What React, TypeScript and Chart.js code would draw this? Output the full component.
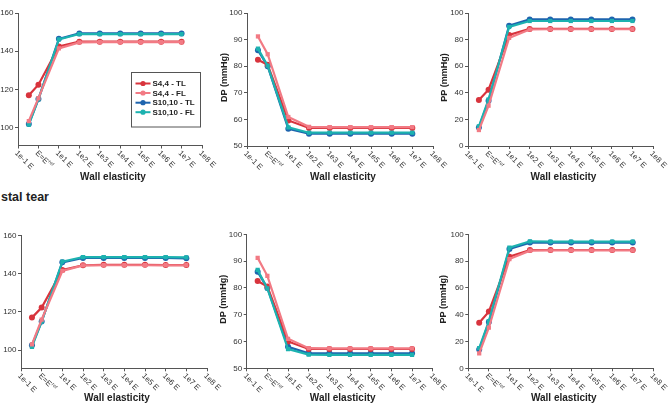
import React, { useEffect, useRef } from "react";
import { Chart, registerables } from "chart.js";

Chart.register(...registerables);

// ---------- data ----------
const X_TICKS = [0, 1, 2, 3, 4, 5, 6, 7, 8, 9];
const X_TICK_LABELS = ["1e-1 E", "E=E^ref", "1e1 E", "1e2 E", "1e3 E", "1e4 E", "1e5 E", "1e6 E", "1e7 E", "1e8 E"];
const X_POS = [0.53, 1, 2, 3, 4, 5, 6, 7, 8];
const X_TITLE = "Wall elasticity";
const SERIES_NAMES = ["S4,4 - TL", "S4,4 - FL", "S10,10 - TL", "S10,10 - FL"];
const SERIES_COLORS = ["#d8343d", "#f27a84", "#1e64ae", "#1cb2b0"];
const SERIES_MARKERS = ["circle", "rect", "circle", "rect"];
const SECTION_LABEL = "stal tear";

// Row 1 — first panel (no axis title visible)
const R1_SP_TL44 = [117, 122.5, 142.5, 145, 145, 145, 145, 145, 145];
const R1_SP_FL44 = [103.5, 115.5, 141.5, 144.6, 144.8, 144.8, 144.8, 144.8, 144.8];
const R1_SP_TL1010 = [102, 115, 146.5, 149.3, 149.3, 149.3, 149.3, 149.3, 149.3];
const R1_SP_FL1010 = [101.6, 115, 146.2, 149, 149, 149, 149, 149, 149];
// Row 1 — DP
const R1_DP_TL44 = [82.4, 80.5, 59.6, 56.8, 56.8, 56.8, 56.8, 56.8, 56.8];
const R1_DP_FL44 = [91.2, 84.5, 60.9, 57.2, 57.1, 57.1, 57.1, 57.1, 57.1];
const R1_DP_TL1010 = [86, 80, 56.5, 54.6, 54.6, 54.6, 54.6, 54.6, 54.6];
const R1_DP_FL1010 = [86.6, 80.2, 57, 55, 55, 55, 55, 55, 55];
// Row 1 — PP
const R1_PP_TL44 = [34.6, 42.3, 83.5, 88, 88, 88, 88, 88, 88];
const R1_PP_FL44 = [12, 30.3, 81.3, 87.6, 87.8, 87.8, 87.8, 87.8, 87.8];
const R1_PP_TL1010 = [14, 34, 90.5, 95.2, 95.2, 95.2, 95.2, 95.2, 95.2];
const R1_PP_FL1010 = [14.8, 35, 89.5, 94, 94, 94, 94, 94, 94];
// Row 2 — first panel
const R2_SP_TL44 = [117, 122.3, 142, 144.5, 144.7, 144.7, 144.7, 144.6, 144.6];
const R2_SP_FL44 = [103, 116, 141.5, 144.4, 144.5, 144.5, 144.5, 144.5, 144.5];
const R2_SP_TL1010 = [102.5, 115, 146, 148.3, 148.3, 148.3, 148.3, 148.3, 148.1];
const R2_SP_FL1010 = [101.7, 114.9, 146.4, 148.8, 148.8, 148.8, 148.8, 148.8, 148.6];
// Row 2 — DP
const R2_DP_TL44 = [82.6, 80.5, 60, 57.2, 57.2, 57.2, 57.2, 57.2, 57.2];
const R2_DP_FL44 = [91.2, 84.5, 61, 57.5, 57.4, 57.4, 57.4, 57.4, 57.4];
const R2_DP_TL1010 = [86, 80, 58, 55.6, 55.6, 55.6, 55.6, 55.6, 55.6];
const R2_DP_FL1010 = [86.7, 79.8, 57.2, 55.1, 55, 55, 55, 55, 55];
// Row 2 — PP
const R2_PP_TL44 = [34, 42.3, 83.3, 88.3, 88.3, 88.3, 88.3, 88.3, 88.3];
const R2_PP_FL44 = [11.2, 30.3, 81.5, 87.8, 88, 88, 88, 88, 88];
const R2_PP_TL1010 = [14, 34.5, 89, 93.8, 93.8, 93.8, 93.8, 93.8, 93.8];
const R2_PP_FL1010 = [15, 35.3, 90, 94.8, 94.6, 94.6, 94.6, 94.6, 94.6];

const SP_TICKS = [100, 120, 140, 160];
const DP_TICKS = [50, 60, 70, 80, 90, 100];
const PP_TICKS = [0, 20, 40, 60, 80, 100];
const DP_TITLE = "DP (mmHg)";
const PP_TITLE = "PP (mmHg)";

// ---------- layout ----------
const FONT = '"Liberation Sans", Arial, sans-serif';

type PanelDef = {
  left: number; top: number; width: number; height: number;
  axisX: number; plotTop: number; plotBottom: number; plotRight: number;
  yMin: number; yMax: number; yTicks: number[];
  yTitle: string | null; yTitleX: number; xTitleY: number;
  series: number[][]; legend: boolean;
};

const PANELS: PanelDef[] = [
  { left: 0, top: 0, width: 220, height: 195, axisX: 18, plotTop: 13, plotBottom: 145.5, plotRight: 202,
    yMin: 90.7, yMax: 160, yTicks: SP_TICKS, yTitle: null, yTitleX: 0, xTitleY: 177,
    series: [R1_SP_TL44, R1_SP_FL44, R1_SP_TL1010, R1_SP_FL1010], legend: true },
  { left: 215, top: 0, width: 236, height: 195, axisX: 247, plotTop: 13, plotBottom: 146, plotRight: 433,
    yMin: 50, yMax: 100, yTicks: DP_TICKS, yTitle: DP_TITLE, yTitleX: 224.5, xTitleY: 177,
    series: [R1_DP_TL44, R1_DP_FL44, R1_DP_TL1010, R1_DP_FL1010], legend: false },
  { left: 436, top: 0, width: 233, height: 195, axisX: 468, plotTop: 13, plotBottom: 146, plotRight: 653,
    yMin: 0, yMax: 100, yTicks: PP_TICKS, yTitle: PP_TITLE, yTitleX: 444.5, xTitleY: 177,
    series: [R1_PP_TL44, R1_PP_FL44, R1_PP_TL1010, R1_PP_FL1010], legend: false },
  { left: 0, top: 200, width: 222, height: 203, axisX: 21, plotTop: 235.7, plotBottom: 368.3, plotRight: 207,
    yMin: 90.4, yMax: 160, yTicks: SP_TICKS, yTitle: null, yTitleX: 0, xTitleY: 398,
    series: [R2_SP_TL44, R2_SP_FL44, R2_SP_TL1010, R2_SP_FL1010], legend: false },
  { left: 215, top: 200, width: 236, height: 203, axisX: 246.7, plotTop: 234.3, plotBottom: 368.3, plotRight: 432.7,
    yMin: 50, yMax: 100, yTicks: DP_TICKS, yTitle: DP_TITLE, yTitleX: 224, xTitleY: 398,
    series: [R2_DP_TL44, R2_DP_FL44, R2_DP_TL1010, R2_DP_FL1010], legend: false },
  { left: 436, top: 200, width: 233, height: 203, axisX: 468.3, plotTop: 234.3, plotBottom: 368.3, plotRight: 653.3,
    yMin: 0, yMax: 100, yTicks: PP_TICKS, yTitle: PP_TITLE, yTitleX: 444, xTitleY: 398,
    series: [R2_PP_TL44, R2_PP_FL44, R2_PP_TL1010, R2_PP_FL1010], legend: false },
];

function makeTextPlugin(p: PanelDef) {
  return {
    id: "figureText",
    afterDatasetsDraw(chart: any) {
      const ctx = chart.ctx as CanvasRenderingContext2D;
      const xs = chart.scales.x;
      const area = chart.chartArea;
      ctx.save();
      // x tick labels rotated clockwise
      ctx.fillStyle = "#333";
      X_TICK_LABELS.forEach((lab, i) => {
        const px = xs.getPixelForValue(X_TICKS[i]);
        ctx.save();
        ctx.translate(px - 2, area.bottom + 6.5);
        ctx.rotate(Math.PI / 4);
        ctx.textAlign = "left";
        ctx.textBaseline = "middle";
        ctx.font = `7.8px ${FONT}`;
        const [main, sup] = lab.split("^");
        ctx.fillText(main, 0, 0);
        if (sup) {
          const w = ctx.measureText(main).width;
          ctx.font = `5px ${FONT}`;
          ctx.fillText(sup, w + 0.3, -2.5);
        }
        ctx.restore();
      });
      // x title
      ctx.fillStyle = "#222";
      ctx.font = `bold 10px ${FONT}`;
      ctx.textAlign = "center";
      ctx.textBaseline = "middle";
      ctx.fillText(X_TITLE, (area.left + area.right) / 2 + 3, p.xTitleY - p.top);
      // y title
      if (p.yTitle) {
        ctx.save();
        ctx.translate(p.yTitleX - p.left, (area.top + area.bottom) / 2 - 2);
        ctx.rotate(-Math.PI / 2);
        ctx.font = `bold 9px ${FONT}`;
        ctx.fillText(p.yTitle, 0, 0);
        ctx.restore();
      }
      // legend
      if (p.legend) {
        const bx = 131.5 - p.left, by = 72.5 - p.top, bw = 69, bh = 54.5;
        ctx.fillStyle = "#fff";
        ctx.fillRect(bx, by, bw, bh);
        ctx.strokeStyle = "#555";
        ctx.lineWidth = 1;
        ctx.strokeRect(bx, by, bw, bh);
        const rows = [83.5, 93, 102.7, 112.2];
        chart.data.datasets.forEach((ds: any, i: number) => {
          const y = rows[i] - p.top;
          ctx.strokeStyle = ds.borderColor;
          ctx.lineWidth = 2;
          ctx.beginPath();
          ctx.moveTo(bx + 4, y);
          ctx.lineTo(bx + 19, y);
          ctx.stroke();
          ctx.fillStyle = ds.borderColor;
          ctx.beginPath();
          ctx.arc(bx + 11.5, y, 2.6, 0, Math.PI * 2);
          ctx.fill();
          ctx.fillStyle = "#222";
          ctx.font = `bold 8px ${FONT}`;
          ctx.textAlign = "left";
          ctx.textBaseline = "middle";
          ctx.fillText(ds.label, bx + 21, y + 0.5);
        });
      }
      ctx.restore();
    },
  };
}

function Panel({ p }: { p: PanelDef }) {
  const ref = useRef<HTMLCanvasElement>(null);
  useEffect(() => {
    if (!ref.current) return;
    const datasets = p.series.map((arr, si) => ({
      label: SERIES_NAMES[si],
      data: X_POS.map((x, i) => ({ x, y: arr[i] })),
      borderColor: SERIES_COLORS[si],
      backgroundColor: SERIES_COLORS[si],
      borderWidth: 2.2,
      pointRadius: 3,
      pointStyle: SERIES_MARKERS[si],
      pointBorderWidth: 0,
      tension: 0,
      order: si % 2 === 1 ? 0 : 1,
    }));
    const chart = new Chart(ref.current, {
      type: "line",
      data: { datasets },
      options: {
        animation: false,
        responsive: false,
        devicePixelRatio: 1,
        layout: { padding: { top: p.plotTop - p.top, right: p.left + p.width - p.plotRight, left: 0, bottom: 0 } },
        plugins: { legend: { display: false }, tooltip: { enabled: false } },
        scales: {
          x: {
            type: "linear",
            min: 0,
            max: 9,
            afterBuildTicks: (s: any) => { s.ticks = X_TICKS.map((v) => ({ value: v })); },
            afterFit: (s: any) => { s.height = p.top + p.height - p.plotBottom; },
            ticks: { display: false },
            grid: { drawOnChartArea: false, drawTicks: true, tickLength: 3, color: "#555", lineWidth: 1 },
            border: { display: true, color: "#555", width: 1 },
          },
          y: {
            min: p.yMin,
            max: p.yMax,
            afterBuildTicks: (s: any) => { s.ticks = p.yTicks.map((v) => ({ value: v })); },
            afterFit: (s: any) => { s.width = p.axisX - p.left; },
            ticks: { font: { family: FONT, size: 8 }, color: "#333", padding: 1.5 },
            grid: { drawOnChartArea: false, drawTicks: true, tickLength: 3, color: "#555", lineWidth: 1 },
            border: { display: true, color: "#555", width: 1 },
          },
        },
      },
      plugins: [makeTextPlugin(p)],
    } as any);
    return () => chart.destroy();
  }, [p]);
  return (
    <canvas
      ref={ref}
      width={p.width}
      height={p.height}
      style={{ position: "absolute", left: p.left, top: p.top, width: p.width, height: p.height }}
    />
  );
}

export default function App() {
  return (
    <div style={{ position: "fixed", left: 0, top: 0, width: 669, height: 403, background: "#fff", overflow: "hidden" }}>
      <div
        style={{
          position: "absolute", left: 1, top: 190, fontFamily: FONT, fontWeight: "bold",
          fontSize: 12.5, color: "#222", lineHeight: "14px", whiteSpace: "nowrap",
        }}
      >
        {SECTION_LABEL}
      </div>
      {PANELS.map((p, i) => (
        <Panel key={i} p={p} />
      ))}
    </div>
  );
}
